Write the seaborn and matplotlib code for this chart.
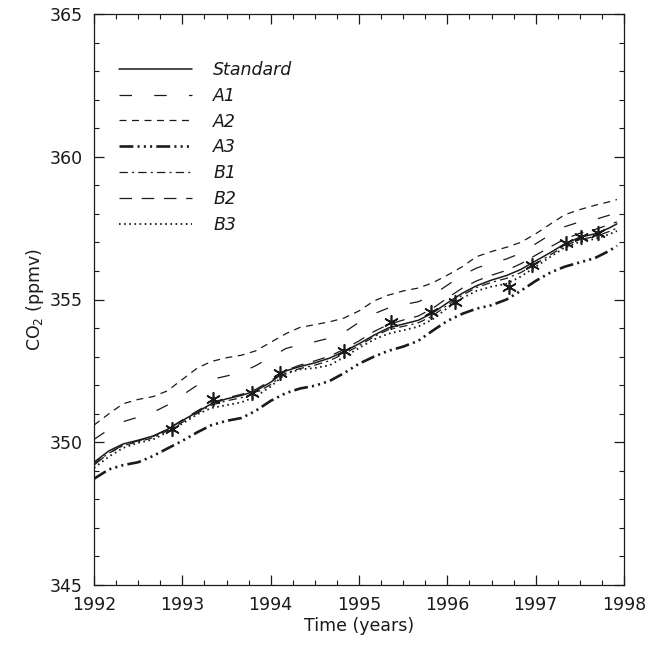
import matplotlib
matplotlib.use("Agg")
import matplotlib.pyplot as plt
from matplotlib.ticker import MultipleLocator
import seaborn as sns

# time axis (decimal years), about every two months
years = [1992.00, 1992.17, 1992.33, 1992.50, 1992.67, 1992.83,
         1993.00, 1993.17, 1993.33, 1993.50, 1993.67, 1993.83,
         1994.00, 1994.17, 1994.33, 1994.50, 1994.67, 1994.83,
         1995.00, 1995.17, 1995.33, 1995.50, 1995.67, 1995.83,
         1996.00, 1996.17, 1996.33, 1996.50, 1996.67, 1996.83,
         1997.00, 1997.17, 1997.33, 1997.50, 1997.67, 1997.83, 1997.92]

standard = [349.30, 349.70, 349.94, 350.07, 350.22, 350.45,
            350.76, 351.06, 351.35, 351.52, 351.64, 351.80,
            352.10, 352.50, 352.65, 352.78, 352.95, 353.18,
            353.45, 353.75, 354.00, 354.14, 354.27, 354.52,
            354.88, 355.22, 355.48, 355.68, 355.84, 356.05,
            356.35, 356.65, 356.95, 357.18, 357.30, 357.50, 357.65]

a1 = [350.10, 350.45, 350.72, 350.88, 351.05, 351.30,
      351.65, 352.00, 352.20, 352.32, 352.45, 352.68,
      352.98, 353.28, 353.42, 353.52, 353.65, 353.85,
      354.20, 354.50, 354.70, 354.82, 354.92, 355.15,
      355.50, 355.85, 356.10, 356.28, 356.42, 356.62,
      356.95, 357.28, 357.55, 357.72, 357.80, 357.95, 358.05]

a2 = [350.60, 351.00, 351.35, 351.50, 351.60, 351.80,
      352.20, 352.60, 352.83, 352.96, 353.05, 353.20,
      353.50, 353.80, 354.02, 354.12, 354.22, 354.35,
      354.60, 354.95, 355.15, 355.30, 355.40, 355.58,
      355.85, 356.15, 356.50, 356.68, 356.83, 357.00,
      357.30, 357.65, 357.97, 358.15, 358.30, 358.42, 358.50]

a3 = [348.72, 349.05, 349.20, 349.30, 349.52, 349.78,
      350.05, 350.35, 350.60, 350.75, 350.85, 351.10,
      351.45, 351.72, 351.88, 351.98, 352.15, 352.42,
      352.75, 353.00, 353.20, 353.35, 353.55, 353.90,
      354.25, 354.50, 354.68, 354.80, 355.00, 355.30,
      355.65, 355.95, 356.15, 356.30, 356.45, 356.70, 356.88]

b1 = [349.25, 349.62, 349.88, 350.02, 350.16, 350.40,
      350.70, 351.02, 351.30, 351.45, 351.56, 351.72,
      352.02, 352.42, 352.58, 352.70, 352.86, 353.10,
      353.38, 353.70, 353.94, 354.06, 354.18, 354.42,
      354.80, 355.15, 355.42, 355.60, 355.74, 355.94,
      356.25, 356.57, 356.88, 357.10, 357.20, 357.38, 357.50]

b2 = [349.20, 349.62, 349.90, 350.05, 350.20, 350.45,
      350.78, 351.10, 351.38, 351.55, 351.68, 351.85,
      352.15, 352.52, 352.70, 352.85, 353.02, 353.25,
      353.55, 353.88, 354.12, 354.28, 354.42, 354.68,
      355.05, 355.40, 355.65, 355.85, 356.02, 356.25,
      356.55, 356.85, 357.12, 357.32, 357.45, 357.62, 357.72]

b3 = [349.10, 349.50, 349.80, 349.98, 350.10, 350.35,
      350.65, 350.98, 351.20, 351.30, 351.40, 351.60,
      351.95, 352.40, 352.55, 352.60, 352.70, 352.98,
      353.30, 353.60, 353.80, 353.92, 354.05, 354.30,
      354.70, 355.05, 355.30, 355.45, 355.55, 355.80,
      356.15, 356.50, 356.82, 357.02, 357.12, 357.28, 357.40]

# observations (asterisks)
obs_years = [1992.88, 1993.35, 1993.79, 1994.11, 1994.83, 1995.36, 1995.82,
             1996.09, 1996.70, 1996.96, 1997.34, 1997.51, 1997.70]
obs_co2 = [350.45, 351.50, 351.71, 352.44, 353.21, 354.22, 354.57,
           354.92, 355.45, 356.21, 356.97, 357.18, 357.32]

runs = ["Standard", "A1", "A2", "A3", "B1", "B2", "B3"]
series = [standard, a1, a2, a3, b1, b2, b3]
# dash patterns in points (not scaled by line width)
styles = ["-", (0, (9, 16)), (0, (5, 4)), (0, (10, 3, 1.5, 3, 1.5, 3, 1.5, 3)),
          (0, (6, 3, 1.5, 3)), (0, (9, 7)), (0, (1.2, 2.5))]
widths = [1.1, 0.9, 0.9, 1.9, 0.9, 0.9, 1.3]

sns.set_theme(style="ticks")
plt.rcParams["lines.scale_dashes"] = False
plt.rcParams["font.family"] = ["DejaVu Sans"]
plt.rcParams["text.color"] = "k"
plt.rcParams["axes.labelcolor"] = "k"

fig = plt.figure(figsize=(6.59, 6.46), dpi=100)
ax = fig.add_axes([94 / 659, 1 - 585 / 646, 530 / 659, 571 / 646])

for name, vals, ls, lw in zip(runs, series, styles, widths):
    sns.lineplot(x=years, y=vals, ax=ax, color="k", linestyle=ls, lw=lw, label=name)

sns.scatterplot(x=obs_years, y=obs_co2, ax=ax, marker=(6, 2, 0), s=95,
                color="k", linewidths=1.2, zorder=5)

ax.set_xlim(1992, 1998)
ax.set_ylim(345, 365)
ax.xaxis.set_major_locator(MultipleLocator(1))
ax.xaxis.set_minor_locator(MultipleLocator(0.25))
ax.yaxis.set_major_locator(MultipleLocator(5))
ax.yaxis.set_minor_locator(MultipleLocator(1))
ax.tick_params(which="both", direction="in", top=True, right=True,
               colors="k", labelsize=12.5, pad=8)
ax.tick_params(which="major", length=7, width=0.9)
ax.tick_params(which="minor", length=3.5, width=0.8)
for sp in ax.spines.values():
    sp.set_linewidth(0.9)
    sp.set_color("k")

ax.set_xlabel("Time (years)", fontsize=12.5, labelpad=2)
ax.set_ylabel("CO$_2$ (ppmv)", fontsize=12.5, labelpad=3)

leg = ax.legend(loc="upper left", bbox_to_anchor=(0.035, 0.93), frameon=False,
                handlelength=4.2, handletextpad=1.2, labelspacing=0.45,
                fontsize=12.5, borderaxespad=0)
for t in leg.get_texts():
    t.set_fontstyle("italic")

fig.savefig("out.png", dpi=100)
